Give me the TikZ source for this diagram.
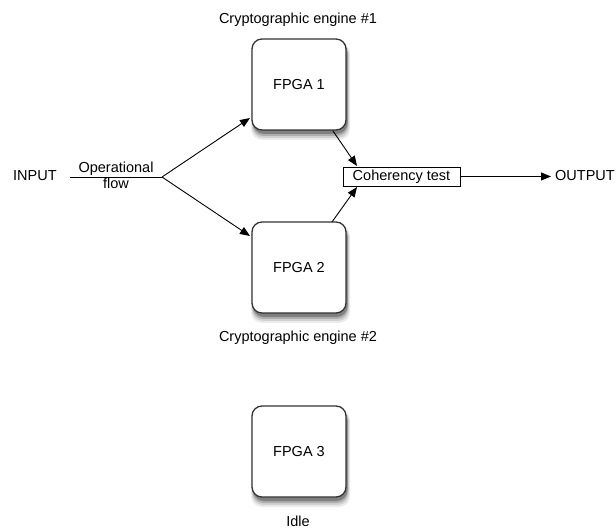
\documentclass[tikz,border=0pt]{standalone}
\usepackage{fontspec}
\setmainfont{Liberation Sans}
\usetikzlibrary{arrows.meta,calc}
\begin{document}
\begin{tikzpicture}[x=1pt,y=-1pt,
  fpga/.style={draw=black!80, line width=1.3pt, rounded corners=10pt, fill=white,
    minimum width=94pt, minimum height=91pt, inner sep=0pt,
    font=\fontsize{14.5}{17}\selectfont},
  shadowfill/.style={fill=black!#1, draw=none, rounded corners=11pt},
  lbl/.style={font=\fontsize{14.5}{17}\selectfont, inner sep=1pt},
  arr/.style={-{Triangle[length=10pt,width=8pt]}, line width=0.9pt}
]
\useasboundingbox (0,0) rectangle (616,529);
\coordinate (p1) at (299,84.5);
\coordinate (p2) at (299,267.5);
\coordinate (p3) at (299,451.5);
\foreach \p in {p1,p2,p3} {
  \fill[shadowfill=8]  ($(\p)+(-48,-42)$) rectangle ($(\p)+(51,55.5)$);
  \fill[shadowfill=18] ($(\p)+(-47,-42)$) rectangle ($(\p)+(50,53.5)$);
  \fill[shadowfill=32] ($(\p)+(-46.5,-42)$) rectangle ($(\p)+(49,51.5)$);
  \fill[shadowfill=50] ($(\p)+(-46,-42)$) rectangle ($(\p)+(48.5,49.5)$);
}
\node[fpga] (f1) at (p1) {FPGA 1};
\node[fpga] (f2) at (p2) {FPGA 2};
\node[fpga] (f3) at (p3) {FPGA 3};
\node[lbl] (l1) at (298,20) {Cryptographic engine \#1};
\node[lbl] (l2) at (298,338) {Cryptographic engine \#2};
\node[lbl] (l3) at (298,521) {Idle};
\node[lbl, anchor=west] (in) at (12,176) {INPUT};
\node[lbl, anchor=west] (out) at (554,176) {OUTPUT};
\node[lbl, draw, line width=0.9pt, minimum width=117pt, minimum height=19pt, inner sep=0pt] (ct) at (401.5,176.5) {Coherency test};
\coordinate (a) at (70,177);
\coordinate (b) at (162,177);
\coordinate (t1) at (250,118);
\coordinate (t2) at (250,236);
\coordinate (s1) at (333,131);
\coordinate (s2) at (332,222);
\coordinate (c1) at (357,166);
\coordinate (c2) at (357,187);
\coordinate (o) at (551,176.5);
\draw[line width=0.9pt] (a) -- node[lbl, above, inner sep=1pt] {Operational} node[lbl, below, inner sep=0.5pt] {flow} (b);
\draw[arr] (b) -- (t1);
\draw[arr] (b) -- (t2);
\draw[arr] (s1) -- (c1);
\draw[arr] (s2) -- (c2);
\draw[arr] (ct.east) -- (o);
\end{tikzpicture}
\end{document}
